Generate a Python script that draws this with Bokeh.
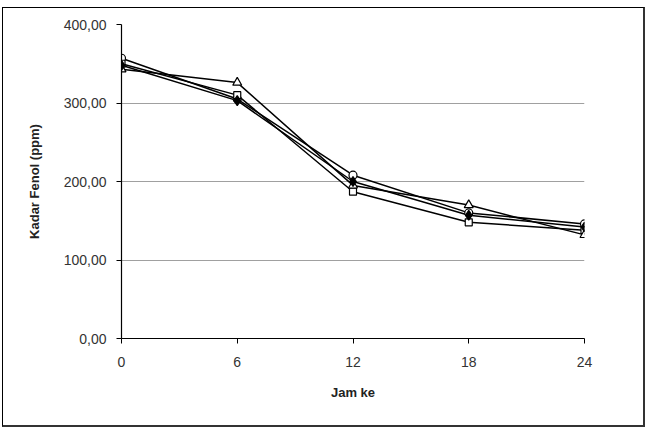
from bokeh.plotting import figure
from bokeh.embed import file_html
from bokeh.resources import INLINE
from bokeh.models import CustomJSTickFormatter, FixedTicker, Range1d

hours = [0, 6, 12, 18, 24]
s_circle = [357, 305, 208, 160, 146]
s_square = [350, 310, 187, 148, 138]
s_triangle = [343, 326, 195, 170, 132]
s_diamond = [348, 303, 200, 157, 142]
y_ticks = [0, 100, 200, 300, 400]

p = figure(width=643, height=420, output_backend="svg", toolbar_location=None,
           x_range=Range1d(0, 24), y_range=Range1d(0, 400),
           min_border_left=118, min_border_right=62, min_border_top=16, min_border_bottom=90,
           styles={"border": "1px solid black", "border-right": "2px solid #333", "border-bottom": "2px solid #333"},
           margin=(7, 0, 0, 2))
p.outline_line_color = None
p.xgrid.grid_line_color = None
p.ygrid.grid_line_color = "#a0a0a0"
p.ygrid.grid_line_width = 1

for ax in (p.xaxis[0], p.yaxis[0]):
    ax.axis_line_color = "black"
    ax.axis_line_width = 1.2
    ax.major_tick_line_color = "black"
    ax.minor_tick_line_color = None
    ax.major_tick_out = 5
    ax.major_tick_in = 0
    ax.major_label_text_font = "Liberation Sans"
    ax.major_label_text_font_size = "14px"
    ax.major_label_text_color = "#333333"
    ax.axis_label_text_font = "Liberation Sans"
    ax.axis_label_text_font_size = "13px"
    ax.axis_label_text_font_style = "bold"
    ax.axis_label_text_color = "#222222"

p.xaxis.ticker = FixedTicker(ticks=hours)
p.yaxis.ticker = FixedTicker(ticks=y_ticks)
p.yaxis.formatter = CustomJSTickFormatter(code="return tick.toFixed(2).replace('.', ',');")
p.xaxis.axis_label = "Jam ke"
p.yaxis.axis_label = "Kadar Fenol (ppm)"
p.xaxis.major_label_standoff = 13
p.yaxis.major_label_standoff = 10
p.xaxis.axis_label_standoff = 15
p.yaxis.axis_label_standoff = 19

for ys in (s_circle, s_square, s_triangle, s_diamond):
    p.line(hours, ys, line_color="black", line_width=1.5)

p.scatter(hours, s_circle, marker="circle", size=8, fill_color="white", line_color="black", line_width=1.2)
p.scatter(hours, s_square, marker="square", size=7, fill_color="white", line_color="black", line_width=1.2)
p.scatter(hours, s_triangle, marker="triangle", size=9, fill_color="white", line_color="black", line_width=1.2)
p.scatter(hours, s_diamond, marker="diamond", size=10, fill_color="black", line_color="black", line_width=1.2)

open("out.html", "w").write(file_html(p, INLINE))
